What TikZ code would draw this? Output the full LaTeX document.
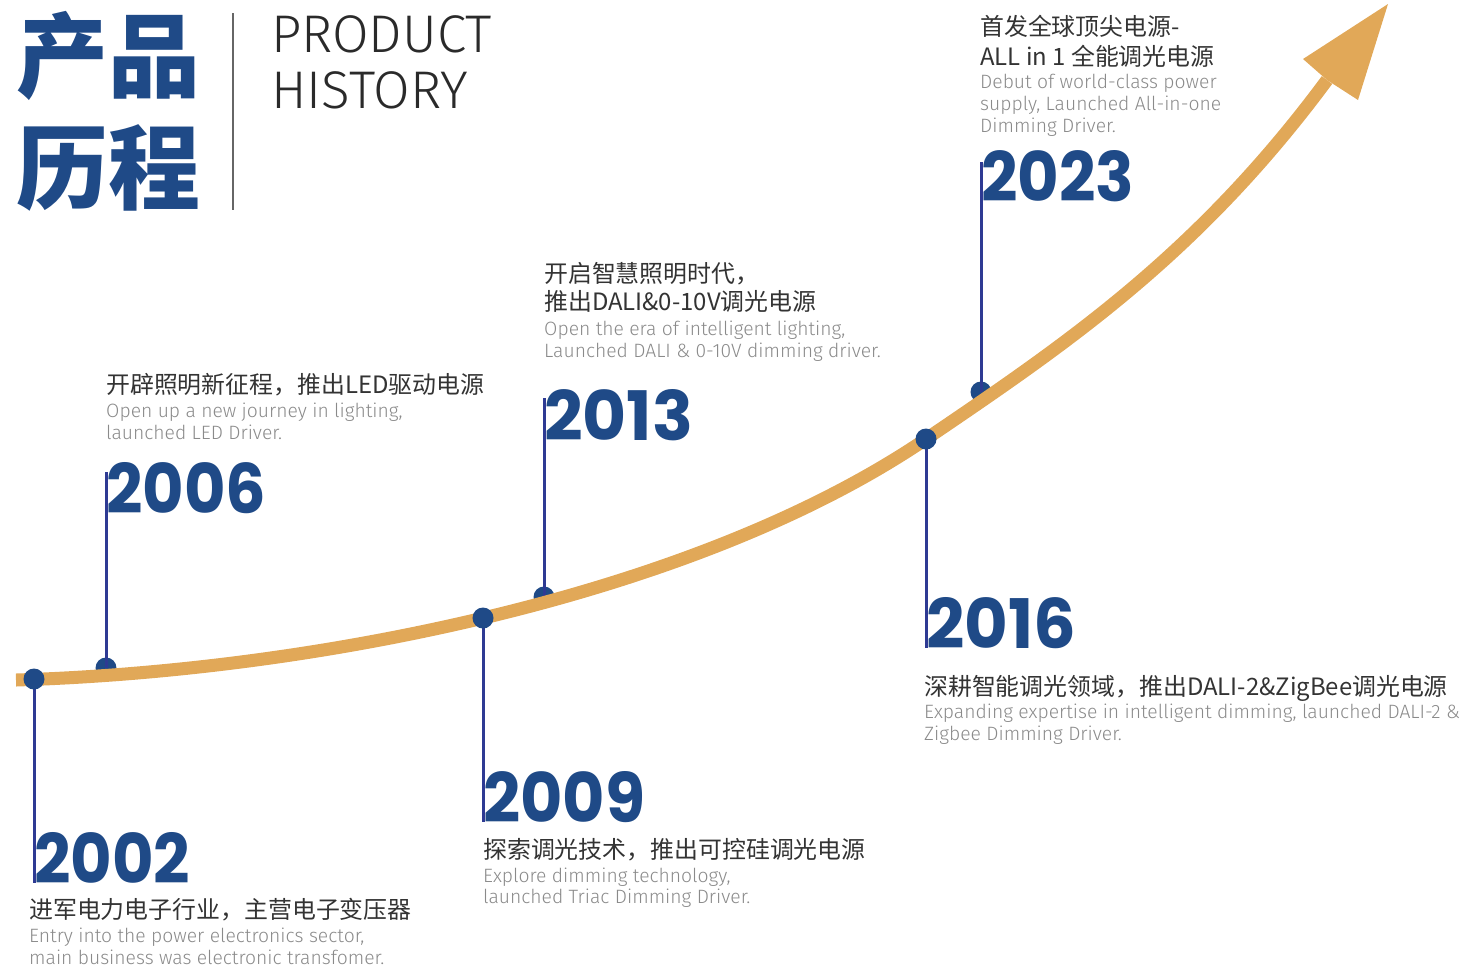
\documentclass[tikz,border=0pt]{standalone}
\usepackage{fontspec}
\usepackage{graphicx}
\newfontfamily\cjkfont{Noto Sans CJK SC}
\newfontfamily\lightfont{Fira Sans Light}
\newfontfamily\yearfont{Poppins}
\definecolor{roadorange}{HTML}{E1A858}
\definecolor{dotblue}{HTML}{1F4A87}
\definecolor{stemblue}{HTML}{2E3A93}
\definecolor{yearblue}{HTML}{1F4A87}
\definecolor{cngray}{HTML}{333333}
\definecolor{engray}{HTML}{8A8A8A}
\definecolor{divgray}{HTML}{666666}
\definecolor{titledark}{HTML}{2A2A2A}
\newcommand\mkyear[2]{\resizebox{#1}{51pt}{\yearfont\bfseries #2}}
\begin{document}
\begin{tikzpicture}[x=1pt,y=-1pt,
  cn/.style={anchor=base west, inner sep=0pt, text=cngray, font=\cjkfont\fontsize{23.9}{23.9}\selectfont},
  en/.style={anchor=base west, inner sep=0pt, text=engray, font=\lightfont\fontsize{19.3}{19.3}\selectfont},
  yearlbl/.style={anchor=base west, inner sep=0pt, text=yearblue},
  dotnode/.style={circle, fill=dotblue, minimum size=21pt, inner sep=0pt},
  stem/.style={draw=stemblue, line width=3pt},
  road/.style={draw=roadorange, line width=13pt},
  bigcn/.style={anchor=base west, inner sep=0pt, text=dotblue, font=\cjkfont\bfseries\fontsize{92}{92}\selectfont},
  biglat/.style={anchor=base west, inner sep=0pt, text=titledark, font=\lightfont\fontsize{53}{53}\selectfont}]
\useasboundingbox (0,0) rectangle (1463,970);

% title
\node[bigcn] (t1) at (16,90) {产品};
\node[bigcn] (t2) at (16,202) {历程};
\coordinate (dvt) at (233,13);
\coordinate (dvb) at (233,210);
\draw[divgray, line width=2pt] (dvt) -- (dvb);
\node[biglat] (p1) at (271,52) {PRODUCT};
\node[biglat] (p2) at (271,108) {HISTORY};

% stem end points
\coordinate (s2002) at (34,883);
\coordinate (s2006) at (106,472);
\coordinate (s2009) at (483,822);
\coordinate (s2013) at (544,398);
\coordinate (s2016) at (926,648);
\coordinate (s2023) at (981,162);

% dots behind the road
\node[dotnode] (d2006) at (106,668) {};
\node[dotnode] (d2013) at (544,597) {};
\node[dotnode] (d2023) at (981,392) {};
\draw[stem] (d2006.center) -- (s2006);
\draw[stem] (d2013.center) -- (s2013);
\draw[stem] (d2023.center) -- (s2023);

% road
\coordinate (r0) at (16,680);
\coordinate (rm) at (926,439);
\coordinate (r1) at (1327,80);
\draw[road] (r0) .. controls (316,671) and (696,595) .. (rm)
                 .. controls (1066,344) and (1197,255.5) .. (r1);
\fill[roadorange] (1388,4) -- (1303,59) -- (r1) -- (1358,100) -- cycle;

% front dots
\coordinate (c2002) at (34,679);
\coordinate (c2009) at (483,618);
\coordinate (c2016) at (926,439);
\draw[stem] (c2002) -- (s2002);
\draw[stem] (c2009) -- (s2009);
\draw[stem] (c2016) -- (s2016);
\node[dotnode] (d2002) at (c2002) {};
\node[dotnode] (d2009) at (c2009) {};
\node[dotnode] (d2016) at (c2016) {};

% years
\node[yearlbl] (y2002) at (34,883) {\mkyear{156pt}{2002}};
\node[yearlbl] (y2006) at (106,513) {\mkyear{160pt}{2006}};
\node[yearlbl] (y2009) at (483,822) {\mkyear{162pt}{2009}};
\node[yearlbl] (y2013) at (544,440) {\mkyear{149pt}{2013}};
\node[yearlbl] (y2016) at (926,648) {\mkyear{150pt}{2016}};
\node[yearlbl] (y2023) at (981,201) {\mkyear{153pt}{2023}};

% 2002
\node[cn] (a1) at (29,918) {进军电力电子行业，主营电子变压器};
\node[en] (a2) at (29,942) {Entry into the power electronics sector,};
\node[en] (a3) at (29,964) {main business was electronic transfomer.};
% 2006
\node[cn] (b1) at (106,393) {开辟照明新征程，推出LED驱动电源};
\node[en] (b2) at (106,417) {Open up a new journey in lighting,};
\node[en] (b3) at (106,439) {launched LED Driver.};
% 2009
\node[cn] (c1) at (483,858) {探索调光技术，推出可控硅调光电源};
\node[en] (c2) at (483,882) {Explore dimming technology,};
\node[en] (c3) at (483,903) {launched Triac Dimming Driver.};
% 2013
\node[cn] (e1) at (544,282) {开启智慧照明时代，};
\node[cn] (e2) at (544,310) {推出DALI\&0-10V调光电源};
\node[en] (e3) at (544,335) {Open the era of intelligent lighting,};
\node[en] (e4) at (544,357) {Launched DALI \& 0-10V dimming driver.};
% 2016
\node[cn] (f1) at (924,695) {深耕智能调光领域，推出DALI-2\&ZigBee调光电源};
\node[en] (f2) at (924,718) {Expanding expertise in intelligent dimming, launched DALI-2 \&};
\node[en] (f3) at (924,740) {Zigbee Dimming Driver.};
% 2023
\node[cn] (g1) at (980,35) {首发全球顶尖电源-};
\node[cn] (g2) at (980,65) {ALL in 1 全能调光电源};
\node[en] (g3) at (980,88) {Debut of world-class power};
\node[en] (g4) at (980,110) {supply, Launched All-in-one};
\node[en] (g5) at (980,132) {Dimming Driver.};
\end{tikzpicture}
\end{document}
